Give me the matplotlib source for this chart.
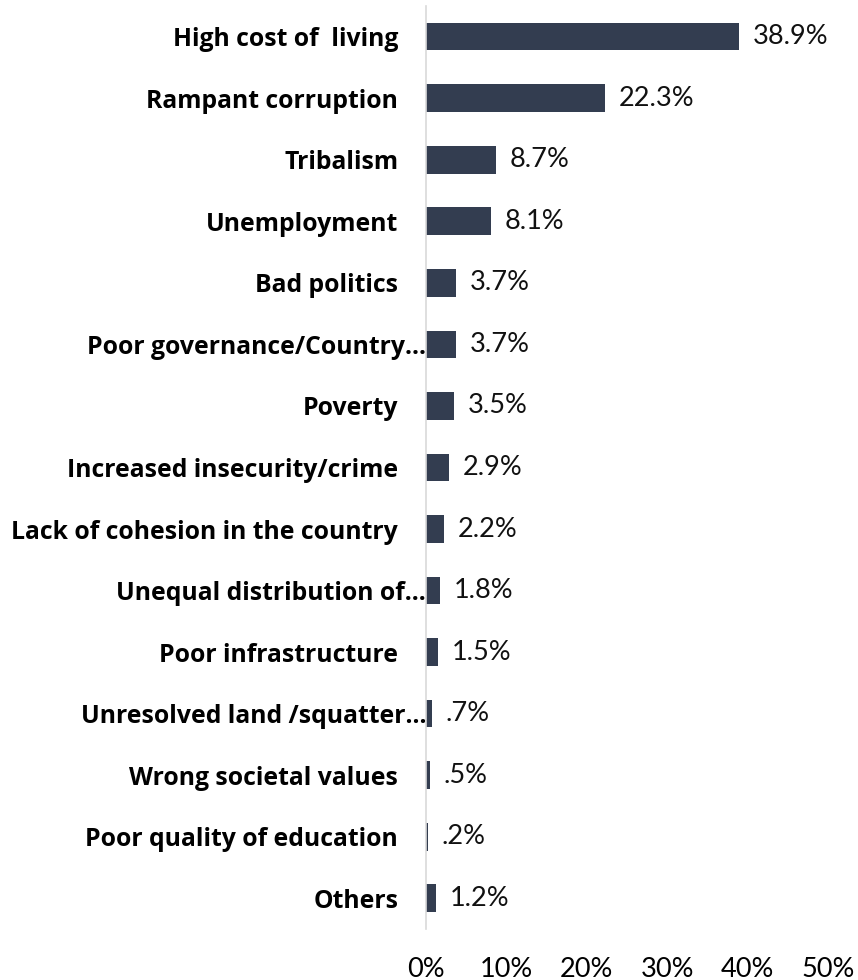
import matplotlib
matplotlib.use('Agg')
import matplotlib.pyplot as plt
from matplotlib.ticker import FuncFormatter
from matplotlib.transforms import ScaledTranslation

categories = ['High cost of  living', 'Rampant corruption', 'Tribalism', 'Unemployment',
              'Bad politics', 'Poor governance/Country…', 'Poverty',
              'Increased insecurity/crime', 'Lack of cohesion in the country',
              'Unequal distribution of…', 'Poor infrastructure',
              'Unresolved land /squatter…', 'Wrong societal values',
              'Poor quality of education', 'Others']
values = [38.9, 22.3, 8.7, 8.1, 3.7, 3.7, 3.5, 2.9, 2.2, 1.8, 1.5, 0.7, 0.5, 0.2, 1.2]
value_labels = ['38.9%', '22.3%', '8.7%', '8.1%', '3.7%', '3.7%', '3.5%', '2.9%', '2.2%',
                '1.8%', '1.5%', '.7%', '.5%', '.2%', '1.2%']
x_ticks = [0, 10, 20, 30, 40, 50]

bar_color = '#333d50'

fig = plt.figure(figsize=(8.58, 9.80), dpi=100)
ax = fig.add_axes([0.4965, 0.052, 0.4685, 0.942])

y = list(range(len(categories)))
ax.barh(y, values, height=0.45, color=bar_color)

for yi, v, lab in zip(y, values, value_labels):
    ax.text(v + 1.7, yi, lab, va='center', ha='left', fontsize=19.5,
            family='Lato', color='#111111')

ax.set_yticks(y)
ax.set_yticklabels(categories, fontsize=17.8, fontweight='bold', family='Open Sans')
ax.set_ylim(14.5, -0.5)
ax.set_xlim(0, 50)
ax.set_xticks(x_ticks)
ax.xaxis.set_major_formatter(FuncFormatter(lambda v, p: f'{v:.0f}%'))
for t in ax.get_xticklabels():
    t.set_fontsize(19.5)
    t.set_family('Lato')

ax.tick_params(axis='y', length=0, pad=20)
ax.tick_params(axis='x', length=0, pad=20)

# truncated labels run past the normal right edge, up to the axis line
shift = ScaledTranslation(0.28, 0, fig.dpi_scale_trans)
for t in ax.get_yticklabels():
    if t.get_text().endswith('…'):
        t.set_transform(t.get_transform() + shift)

for s in ['top', 'right', 'bottom']:
    ax.spines[s].set_visible(False)
ax.spines['left'].set_color('#d9d9d9')
ax.spines['left'].set_linewidth(1.2)

fig.savefig('out.png', dpi=100)
